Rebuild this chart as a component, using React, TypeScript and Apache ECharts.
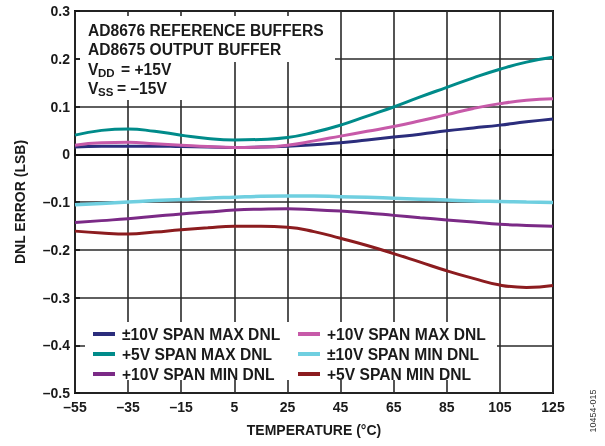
import React, { useEffect, useRef } from "react";
import * as echarts from "echarts";

const temps = ["–55","–45","–35","–25","–15","–5","5","15","25","35","45","55","65","75","85","95","105","115","125"];
const pm10Max = [0.015,0.017,0.017,0.017,0.016,0.015,0.014,0.015,0.017,0.020,0.024,0.030,0.036,0.042,0.049,0.055,0.061,0.068,0.074];
const p10Max = [0.019,0.024,0.025,0.022,0.019,0.016,0.014,0.015,0.019,0.028,0.038,0.048,0.058,0.070,0.083,0.096,0.106,0.113,0.116];
const p5Max = [0.040,0.050,0.053,0.048,0.040,0.033,0.030,0.031,0.035,0.046,0.061,0.080,0.099,0.120,0.140,0.160,0.178,0.193,0.203];
const pm10Min = [-0.106,-0.103,-0.100,-0.097,-0.095,-0.092,-0.090,-0.088,-0.0875,-0.0875,-0.089,-0.090,-0.092,-0.094,-0.096,-0.098,-0.099,-0.100,-0.101];
const p10Min = [-0.143,-0.139,-0.135,-0.130,-0.125,-0.121,-0.117,-0.115,-0.114,-0.116,-0.119,-0.123,-0.128,-0.133,-0.1375,-0.142,-0.1465,-0.149,-0.151];
const p5Min = [-0.161,-0.165,-0.167,-0.163,-0.158,-0.154,-0.151,-0.151,-0.153,-0.162,-0.176,-0.191,-0.208,-0.226,-0.244,-0.260,-0.274,-0.279,-0.275];

const names = ["±10V SPAN MAX DNL","+10V SPAN MAX DNL","+5V SPAN MAX DNL","±10V SPAN MIN DNL","+10V SPAN MIN DNL","+5V SPAN MIN DNL"];
const FONT = "Liberation Sans, Arial, Helvetica, sans-serif";

export default function App() {
  const ref = useRef<HTMLDivElement>(null);
  useEffect(() => {
    const chart = echarts.init(ref.current!, null, { renderer: "svg" });
    const mk = (name: string, data: number[], color: string, width = 3) => ({
      name, type: "line", data, smooth: 0.5, showSymbol: false, symbol: "none",
      lineStyle: { color, width }, itemStyle: { color }, z: 3,
    });
    const txt = (text: string, x: number, y: number, size = 15.6) => ({
      type: "text", z: 10,
      style: { text, x, y, fill: "#1a1a1a", fontSize: size, fontWeight: "bold", fontFamily: FONT, textVerticalAlign: "middle", verticalAlign: "middle" },
    });
    const legendText = { fontSize: 15.6, fontWeight: "bold", fontFamily: FONT, color: "#1a1a1a", lineHeight: 15, padding: [0, 0, 0, 2] };
    chart.setOption({
      animation: false,
      grid: { left: 75, right: 52, top: 11, bottom: 53, show: true, borderColor: "#111", borderWidth: 2, backgroundColor: "transparent" },
      xAxis: {
        type: "category", data: temps, boundaryGap: false,
        name: "TEMPERATURE (°C)", nameLocation: "middle", nameGap: 30,
        nameTextStyle: { fontSize: 14, fontWeight: "bold", fontFamily: FONT, color: "#1a1a1a" },
        axisLine: { lineStyle: { color: "#111", width: 2 } },
        axisTick: { inside: true, length: 5, interval: 1, lineStyle: { color: "#111", width: 1.5 } },
        axisLabel: { interval: 1, margin: 7, fontSize: 14, fontWeight: "bold", fontFamily: FONT, color: "#1a1a1a" },
        splitLine: { show: true, interval: 1, lineStyle: { color: "#2a2a2a", width: 1.6 } },
      },
      yAxis: {
        type: "value", min: -0.5, max: 0.3, interval: 0.1,
        name: "DNL ERROR (LSB)", nameLocation: "middle", nameGap: 48,
        nameTextStyle: { fontSize: 14, fontWeight: "bold", fontFamily: FONT, color: "#1a1a1a" },
        axisLine: { lineStyle: { color: "#111", width: 2 } },
        axisTick: { show: true, inside: true, length: 5, lineStyle: { color: "#111", width: 1.5 } },
        axisLabel: {
          margin: 5, fontSize: 14, fontWeight: "bold", fontFamily: FONT, color: "#1a1a1a",
          formatter: (v: number) => Math.abs(v) < 1e-9 ? "0" : (v < 0 ? "–" : "") + Math.abs(v).toFixed(1),
        },
        splitLine: { show: true, lineStyle: { color: "#2a2a2a", width: 1.6 } },
      },
      legend: [
        {
          orient: "vertical", left: 93, top: 326, padding: 0, itemGap: 4, itemWidth: 22, itemHeight: 4, icon: "rect",
          data: [names[0], names[2], names[4]],
          textStyle: legendText,
        },
        {
          orient: "vertical", left: 298, top: 326, padding: 0, itemGap: 4, itemWidth: 22, itemHeight: 4, icon: "rect",
          data: [names[1], names[3], names[5]],
          textStyle: legendText,
        },
      ],
      graphic: [
        { type: "rect", z: 1, shape: { x: 80, y: 16, width: 255, height: 46 }, style: { fill: "#fff" } },
        { type: "rect", z: 1, shape: { x: 80, y: 62, width: 110, height: 38 }, style: { fill: "#fff" } },
        { type: "rect", z: 1, shape: { x: 85, y: 322, width: 412, height: 58 }, style: { fill: "#fff" } },
        txt("AD8676 REFERENCE BUFFERS", 88, 30),
        txt("AD8675 OUTPUT BUFFER", 88, 49),
        txt("V", 88, 69),
        txt("DD", 98, 73, 11.5),
        txt("= +15V", 121, 69),
        txt("V", 88, 88),
        txt("SS", 98, 92, 11.5),
        txt("= –15V", 117, 88),
        {
          type: "text", z: 10, x: 593, y: 411, rotation: Math.PI / 2,
          style: { text: "10454-015", x: 0, y: 0, fill: "#333", fontSize: 9, fontFamily: FONT, textAlign: "center", align: "center", textVerticalAlign: "middle", verticalAlign: "middle" },
        },
      ],
      series: [
        mk(names[0], pm10Max, "#2b2d7c"),
        mk(names[1], p10Max, "#c75aa9"),
        mk(names[2], p5Max, "#008b8a"),
        mk(names[4], p10Min, "#7b2a86"),
        mk(names[3], pm10Min, "#6fcfe0", 3.5),
        mk(names[5], p5Min, "#8c1c1f"),
      ],
    });
    return () => chart.dispose();
  }, []);
  return <div ref={ref} style={{ position: "fixed", left: 0, top: 0, width: 605, height: 446 }} />;
}
